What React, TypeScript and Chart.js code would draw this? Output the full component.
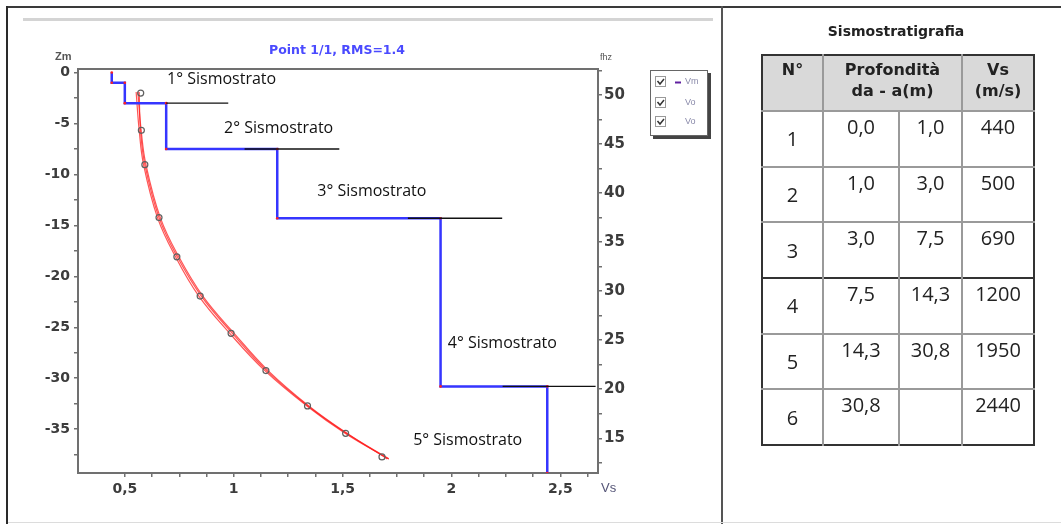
import React, { useEffect, useRef } from 'react';
import { Chart, registerables } from 'chart.js';
Chart.register(...registerables);

// ---- Table data (Sismostratigrafia) ----
const layerNo = [1, 2, 3, 4, 5, 6];
const depthFrom = [0.0, 1.0, 3.0, 7.5, 14.3, 30.8];
const depthTo: (number | null)[] = [1.0, 3.0, 7.5, 14.3, 30.8, null];
const vsMs = [440, 500, 690, 1200, 1950, 2440];

// ---- Chart data ----
const zBottom = -39.3;
const boundaryDepth = [3.0, 7.5, 14.3, 30.8];
const boundaryStartVs = [0.69, 1.05, 1.8, 2.235];
const boundaryEndVs = [0.975, 1.485, 2.233, 2.662];

const stratoLabels = ['1° Sismostrato', '2° Sismostrato', '3° Sismostrato', '4° Sismostrato', '5° Sismostrato'];
const stratoLabelVs = [0.694, 0.956, 1.384, 1.983, 1.824];
const stratoLabelZ = [-0.72, -5.44, -11.7, -26.6, -36.1];

const obsFreq = [50.2, 46.4, 42.9, 37.5, 33.5, 29.5, 25.7, 21.9, 18.3, 15.5, 13.1];
const obsVs = [0.573, 0.576, 0.592, 0.657, 0.739, 0.846, 0.988, 1.148, 1.339, 1.514, 1.681];

const curveFreq = [50.3, 46.4, 42.9, 37.5, 33.5, 29.5, 25.7, 21.9, 18.3, 15.5, 12.9];
const curveVsA = [0.552, 0.566, 0.586, 0.65, 0.733, 0.84, 0.982, 1.143, 1.336, 1.513, 1.712];
const curveVsB = [0.566, 0.572, 0.592, 0.657, 0.741, 0.851, 0.994, 1.151, 1.341, 1.519, 1.712];
const curveVsC = [0.56, 0.575, 0.597, 0.663, 0.748, 0.858, 1.002, 1.158, 1.345, 1.521, 1.705];

// ---- Axis ticks ----
const zMajor = [0, -5, -10, -15, -20, -25, -30, -35];
const fMajor = [15, 20, 25, 30, 35, 40, 45, 50];
const vsMajor = [0.5, 1, 1.5, 2, 2.5];
const vsMajorLabels = ['0,5', '1', '1,5', '2', '2,5'];

const zTickVals: number[] = [];
for (let v = 0; v >= -37.5; v -= 2.5) zTickVals.push(v);
const fTickVals: number[] = [];
for (let v = 12.5; v <= 52.5; v += 2.5) fTickVals.push(v);
const vsTickVals: number[] = [];
for (let i = 0; i <= 17; i++) vsTickVals.push(0.5 + i * 0.125);

const fmt = (v: number) => v.toFixed(1).replace('.', ',');
const near = (a: number, b: number) => Math.abs(a - b) < 1e-6;

const TICK_FONT = { family: "'DejaVu Sans'", size: 14, weight: 'bold' as const };
const TICK_COLOR = '#3c3c3c';
const AXIS_COLOR = '#707070';

function buildStep() {
  const pts: { x: number; y: number }[] = [];
  for (let i = 0; i < vsMs.length; i++) {
    const v = vsMs[i] / 1000;
    const bottom = depthTo[i] === null ? -zBottom : (depthTo[i] as number);
    pts.push({ x: v, y: -depthFrom[i] });
    pts.push({ x: v, y: -bottom });
  }
  return pts;
}

const overlayPlugin = {
  id: 'overlay',
  beforeDatasetsDraw(chart: any) {
    const { ctx, chartArea } = chart;
    ctx.save();
    ctx.strokeStyle = AXIS_COLOR;
    ctx.lineWidth = 2;
    ctx.strokeRect(chartArea.left, chartArea.top, chartArea.right - chartArea.left, chartArea.bottom - chartArea.top);
    ctx.restore();
  },
  afterDraw(chart: any) {
    const { ctx, scales } = chart;
    ctx.save();
    // title
    ctx.fillStyle = '#4a4aff';
    ctx.font = "bold 12.5px 'DejaVu Sans'";
    ctx.textAlign = 'center';
    ctx.textBaseline = 'middle';
    ctx.fillText('Point 1/1, RMS=1.4', 337, 51);
    // axis titles
    ctx.fillStyle = '#555';
    ctx.font = "bold 11px 'Liberation Sans'";
    ctx.textAlign = 'left';
    ctx.fillText('Zm', 55, 57);
    ctx.font = "9px 'Liberation Sans'";
    ctx.fillText('fhz', 600, 58);
    ctx.fillStyle = '#555577';
    ctx.font = "13px 'Liberation Sans'";
    ctx.fillText('Vs', 601, 488);
    // strato labels
    ctx.fillStyle = '#111';
    ctx.font = "16px 'Open Sans'";
    ctx.textAlign = 'left';
    ctx.textBaseline = 'middle';
    for (let i = 0; i < stratoLabels.length; i++) {
      const px = scales.x.getPixelForValue(stratoLabelVs[i]);
      const py = scales.y.getPixelForValue(stratoLabelZ[i]);
      ctx.fillText(stratoLabels[i], px, py);
    }
    // legend box
    const lx = 650, ly = 70, lw = 58, lh = 66;
    ctx.fillStyle = '#444';
    ctx.fillRect(lx + 3, ly + 3, lw, lh);
    ctx.fillStyle = '#fff';
    ctx.fillRect(lx, ly, lw, lh);
    ctx.strokeStyle = '#666';
    ctx.lineWidth = 1;
    ctx.strokeRect(lx + 0.5, ly + 0.5, lw - 1, lh - 1);
    const rows = ['Vm', 'Vo', 'Vo'];
    const rowY = [82, 103, 122];
    ctx.font = "9px 'Liberation Sans'";
    for (let i = 0; i < rows.length; i++) {
      const cy = rowY[i];
      ctx.strokeStyle = '#999';
      ctx.strokeRect(655.5, cy - 5.5, 10, 10);
      ctx.strokeStyle = '#333';
      ctx.lineWidth = 1.5;
      ctx.beginPath();
      ctx.moveTo(657.5, cy - 1);
      ctx.lineTo(660, cy + 2);
      ctx.lineTo(664, cy - 3);
      ctx.stroke();
      ctx.lineWidth = 1;
      if (i === 0) {
        ctx.strokeStyle = '#6020a0';
        ctx.lineWidth = 2;
        ctx.beginPath();
        ctx.moveTo(675, cy + 0.5);
        ctx.lineTo(681, cy + 0.5);
        ctx.stroke();
        ctx.lineWidth = 1;
      }
      ctx.fillStyle = '#8a8aaa';
      ctx.textAlign = 'left';
      ctx.fillText(rows[i], 685, cy);
    }
    ctx.restore();
  },
};

function ChartPanel() {
  const ref = useRef<HTMLCanvasElement | null>(null);
  useEffect(() => {
    if (!ref.current) return;
    const datasets: any[] = [];
    boundaryDepth.forEach((d, i) => {
      datasets.push({
        data: [
          { x: boundaryStartVs[i], y: -d },
          { x: boundaryEndVs[i], y: -d },
        ],
        yAxisID: 'y',
        showLine: true,
        borderColor: '#111',
        borderWidth: 1.3,
        pointRadius: 0,
        order: 1,
      });
    });
    datasets.push({
      data: buildStep(),
      yAxisID: 'y',
      showLine: true,
      borderColor: '#3535ff',
      borderWidth: 2.5,
      pointRadius: 1.3,
      pointBackgroundColor: '#ff2020',
      pointBorderColor: '#ff2020',
      pointBorderWidth: 0,
      order: 2,
    });
    [curveVsA, curveVsB, curveVsC].forEach((arr) => {
      datasets.push({
        data: arr.map((v, i) => ({ x: v, y: curveFreq[i] })),
        yAxisID: 'y2',
        showLine: true,
        tension: 0.4,
        borderColor: 'rgba(255,30,30,0.75)',
        borderWidth: 1.2,
        pointRadius: 0,
        order: 4,
      });
    });
    datasets.push({
      data: obsVs.map((v, i) => ({ x: v, y: obsFreq[i] })),
      yAxisID: 'y2',
      showLine: false,
      pointRadius: 3,
      pointBorderColor: '#606060',
      pointBackgroundColor: 'rgba(0,0,0,0)',
      pointBorderWidth: 1.2,
      order: 3,
    });

    const chart = new Chart(ref.current, {
      type: 'scatter',
      data: { datasets },
      plugins: [overlayPlugin],
      options: {
        animation: false,
        responsive: false,
        devicePixelRatio: 1,
        layout: { padding: { left: 8, right: 84, top: 69, bottom: 21 } },
        plugins: { legend: { display: false }, tooltip: { enabled: false }, title: { display: false } },
        scales: {
          x: {
            type: 'linear',
            min: 0.285,
            max: 2.673,
            afterBuildTicks: (s: any) => {
              s.ticks = vsTickVals.map((v) => ({ value: v }));
            },
            afterFit: (s: any) => {
              s.height = 30;
            },
            ticks: {
              autoSkip: false,
              maxRotation: 0,
              padding: 4,
              font: TICK_FONT,
              color: TICK_COLOR,
              callback: (v: any) => {
                const idx = vsMajor.findIndex((m) => near(m, Number(v)));
                return idx >= 0 ? vsMajorLabels[idx] : '';
              },
            },
            grid: { drawOnChartArea: false, drawTicks: true, tickLength: 4, color: AXIS_COLOR, lineWidth: 1.5 },
            border: { display: false },
          },
          y: {
            type: 'linear',
            position: 'left',
            min: zBottom,
            max: 0.35,
            afterBuildTicks: (s: any) => {
              s.ticks = zTickVals.map((v) => ({ value: v }));
            },
            afterFit: (s: any) => {
              s.width = 70;
            },
            ticks: {
              autoSkip: false,
              padding: 4,
              font: TICK_FONT,
              color: TICK_COLOR,
              callback: (v: any) => (zMajor.some((m) => near(m, Number(v))) ? String(v) : ''),
            },
            grid: { drawOnChartArea: false, drawTicks: true, tickLength: 4, color: AXIS_COLOR, lineWidth: 1.5 },
            border: { display: false },
          },
          y2: {
            type: 'linear',
            position: 'right',
            min: 11.46,
            max: 52.65,
            afterBuildTicks: (s: any) => {
              s.ticks = fTickVals.map((v) => ({ value: v }));
            },
            afterFit: (s: any) => {
              s.width = 40;
            },
            ticks: {
              autoSkip: false,
              padding: 2,
              font: { ...TICK_FONT, size: 15 },
              color: TICK_COLOR,
              callback: (v: any) => (fMajor.some((m) => near(m, Number(v))) ? String(v) : ''),
            },
            grid: { drawOnChartArea: false, drawTicks: true, tickLength: 4, color: AXIS_COLOR, lineWidth: 1.5 },
            border: { display: false },
          },
        },
      } as any,
    });
    return () => chart.destroy();
  }, []);
  return <canvas ref={ref} width={722} height={524} style={{ position: 'absolute', left: 0, top: 0, width: 722, height: 524 }} />;
}

const colW = [61, 76, 63, 72];
const cellBorder = '2px solid #9a9a9a';
const darkBorder = '2px solid #333';

function StrataTable() {
  const bodyFont = "'Open Sans', sans-serif";
  return (
    <div style={{ position: 'absolute', left: 722, top: 8, width: 339, height: 515 }}>
      <div
        style={{
          position: 'absolute',
          left: 0,
          width: 348,
          top: 15,
          textAlign: 'center',
          font: "bold 14px 'DejaVu Sans'",
          color: '#222',
        }}
      >
        Sismostratigrafia
      </div>
      <table
        style={{
          position: 'absolute',
          left: 39,
          top: 46,
          borderCollapse: 'collapse',
          tableLayout: 'fixed',
          width: 272,
          border: darkBorder,
          color: '#222',
        }}
      >
        <colgroup>
          {colW.map((w, i) => (
            <col key={i} style={{ width: w }} />
          ))}
        </colgroup>
        <thead>
          <tr style={{ height: 56, background: '#d9d9d9' }}>
            {[
              { t: ['N°'], span: 1 },
              { t: ['Profondità', 'da - a(m)'], span: 2 },
              { t: ['Vs', '(m/s)'], span: 1 },
            ].map((h, i) => (
              <th
                key={i}
                colSpan={h.span}
                style={{
                  font: "bold 16px 'DejaVu Sans'",
                  lineHeight: '21px',
                  verticalAlign: 'top',
                  paddingTop: 3,
                  paddingLeft: 0,
                  paddingRight: 0,
                  borderLeft: i === 0 ? darkBorder : cellBorder,
                  borderBottom: cellBorder,
                  textAlign: 'center',
                }}
              >
                {h.t.map((s, k) => (
                  <div key={k}>{s}</div>
                ))}
              </th>
            ))}
          </tr>
        </thead>
        <tbody>
          {layerNo.map((n, i) => (
            <tr key={n} style={{ height: 55.7 }}>
              <td
                style={{
                  font: `20px ${bodyFont}`,
                  textAlign: 'center',
                  verticalAlign: 'middle',
                  borderTop: i === 3 ? darkBorder : cellBorder,
                  padding: 0,
                }}
              >
                {n}
              </td>
              {[fmt(depthFrom[i]), depthTo[i] === null ? '' : fmt(depthTo[i] as number), String(vsMs[i])].map((s, k) => (
                <td
                  key={k}
                  style={{
                    font: `20px ${bodyFont}`,
                    textAlign: 'center',
                    verticalAlign: 'top',
                    paddingTop: 1,
                    paddingLeft: 0,
                    paddingRight: 0,
                    borderLeft: cellBorder,
                    borderTop: i === 3 ? darkBorder : cellBorder,
                    lineHeight: '28px',
                  }}
                >
                  {s}
                </td>
              ))}
            </tr>
          ))}
        </tbody>
      </table>
    </div>
  );
}

export default function App() {
  return (
    <div style={{ position: 'absolute', left: 0, top: 0, width: 1061, height: 524, background: '#fff', overflow: 'hidden' }}>
      <ChartPanel />
      {/* frame lines */}
      <div style={{ position: 'absolute', left: 6, top: 6, width: 1055, height: 2, background: '#3a3a3a' }} />
      <div style={{ position: 'absolute', left: 6, top: 6, width: 2, height: 518, background: '#2a2a2a' }} />
      <div style={{ position: 'absolute', left: 721, top: 6, width: 2, height: 518, background: '#555' }} />
      <div style={{ position: 'absolute', left: 23, top: 18, width: 690, height: 3, background: '#d4d4d4' }} />
      <div style={{ position: 'absolute', left: 8, top: 522, width: 1053, height: 1, background: '#dcdcdc' }} />
      <StrataTable />
    </div>
  );
}
